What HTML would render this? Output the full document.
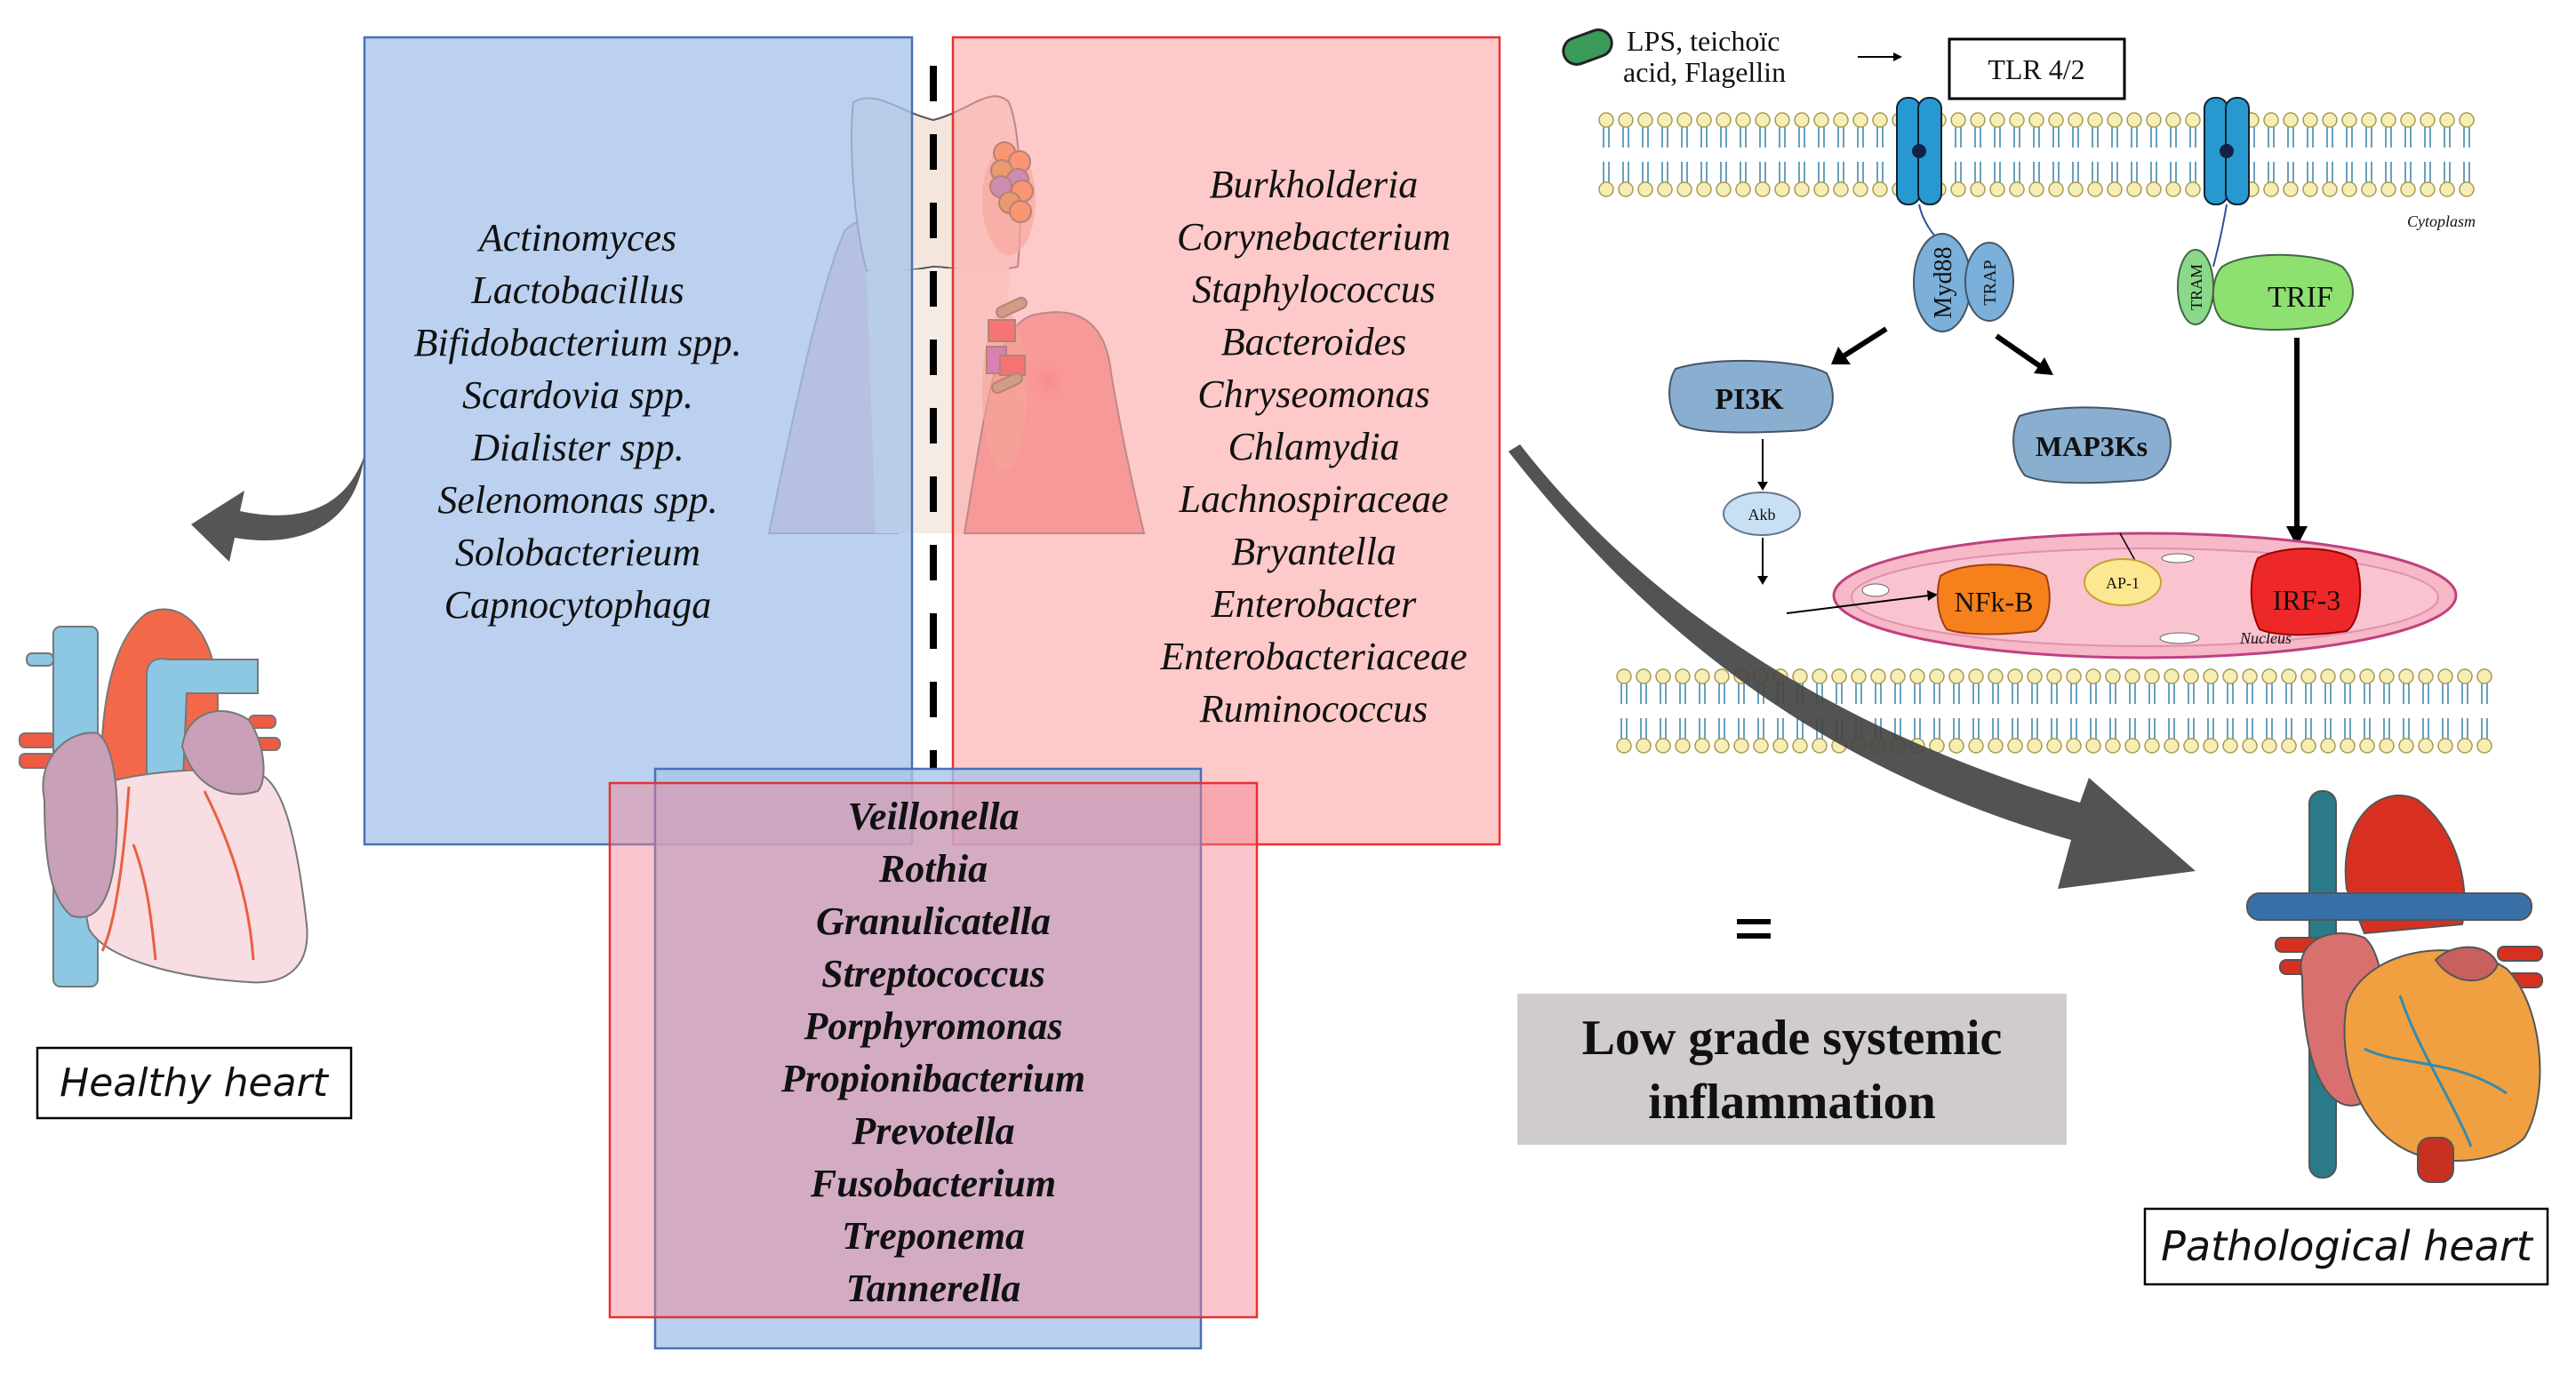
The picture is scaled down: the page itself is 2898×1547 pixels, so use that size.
<!DOCTYPE html>
<html><head><meta charset="utf-8"><style>
html,body{margin:0;padding:0;background:#fff;}
svg{display:block;}
.it{font-family:"Liberation Serif",serif;font-style:italic;font-size:44px;fill:#111;}
.bi{font-family:"Liberation Serif",serif;font-style:italic;font-weight:bold;font-size:44px;fill:#111;}
.sr{font-family:"Liberation Serif",serif;fill:#111;}
</style></head><body>
<svg width="2898" height="1547" viewBox="0 0 2898 1547" xmlns="http://www.w3.org/2000/svg">
<defs>
<radialGradient id="inf" cx="0.5" cy="0.5" r="0.5"><stop offset="0" stop-color="#f56060"/><stop offset="1" stop-color="#f7a0a0" stop-opacity="0"/></radialGradient>
<pattern id="mem" x="1796" y="126" width="22" height="96" patternUnits="userSpaceOnUse">
<circle cx="11" cy="9" r="8" fill="#f6eeb4" stroke="#a89a50" stroke-width="1.5"/>
<circle cx="11" cy="87" r="8" fill="#f6eeb4" stroke="#a89a50" stroke-width="1.5"/>
<path d="M8 17 V40 M14 17 V40 M8 56 V79 M14 56 V79" stroke="#6aa0c0" stroke-width="2"/>
</pattern>
<pattern id="mem2" x="1816" y="752" width="22" height="96" patternUnits="userSpaceOnUse">
<circle cx="11" cy="9" r="8" fill="#f6eeb4" stroke="#a89a50" stroke-width="1.5"/>
<circle cx="11" cy="87" r="8" fill="#f6eeb4" stroke="#a89a50" stroke-width="1.5"/>
<path d="M8 17 V40 M14 17 V40 M8 56 V79 M14 56 V79" stroke="#6aa0c0" stroke-width="2"/>
</pattern>
</defs>
<!-- tooth illustration -->
<g>
<path d="M865 600 C890 480 920 330 950 260 C970 240 990 245 1003 270 L1010 600 Z" fill="#e8b8c4" stroke="#666" stroke-width="2"/>
<path d="M960 115 C985 100 1010 125 1050 135 C1090 125 1115 95 1135 115 C1150 150 1150 250 1145 300 C1100 310 1070 300 1050 300 C1020 305 990 308 975 305 C960 250 955 160 960 115 Z" fill="#f4e6dc" stroke="#555" stroke-width="2"/>
<path d="M975 305 L985 600 L1130 600 L1135 300 Z" fill="#f4ece4"/>
<path d="M1085 600 C1110 450 1120 370 1160 355 C1220 340 1245 370 1250 420 C1260 480 1275 550 1287 600 Z" fill="#f08080" stroke="#555" stroke-width="2"/>
<ellipse cx="1180" cy="430" rx="45" ry="50" fill="url(#inf)"/>
<ellipse cx="1135" cy="225" rx="30" ry="62" fill="#f0a890" opacity="0.7"/>
<g stroke="#442" stroke-width="2">
<circle cx="1130" cy="172" r="12" fill="#f97a20"/><circle cx="1147" cy="182" r="12" fill="#f97a20"/>
<circle cx="1127" cy="192" r="12" fill="#d08010"/><circle cx="1145" cy="202" r="12" fill="#8060c0"/>
<circle cx="1126" cy="210" r="12" fill="#8060c0"/><circle cx="1150" cy="215" r="12" fill="#f97a20"/>
<circle cx="1136" cy="228" r="12" fill="#d08010"/><circle cx="1148" cy="238" r="12" fill="#f97a20"/>
</g>
<ellipse cx="1130" cy="440" rx="25" ry="90" fill="#e8a080" opacity="0.6"/>
<g stroke="#442" stroke-width="2">
<rect x="1120" y="340" width="36" height="12" rx="6" fill="#8a8a50" transform="rotate(-25 1138 346)"/>
<rect x="1112" y="360" width="30" height="24" fill="#f02020"/>
<rect x="1110" y="390" width="22" height="30" fill="#a040c0"/>
<rect x="1125" y="400" width="28" height="22" fill="#e82020"/>
<rect x="1115" y="425" width="36" height="12" rx="6" fill="#8a8a50" transform="rotate(-25 1133 431)"/>
</g>
</g>
<!-- boxes -->
<rect x="410" y="42" width="616" height="908" fill="#a8c4ea" fill-opacity="0.78" stroke="#4a70b8" stroke-width="2.5"/>
<rect x="1072" y="42" width="615" height="908" fill="#fca8a8" fill-opacity="0.62" stroke="#e83030" stroke-width="2.5"/>
<line x1="1050" y1="74" x2="1050" y2="865" stroke="#000" stroke-width="8" stroke-dasharray="40,37"/>
<rect x="737" y="865" width="614" height="652" fill="#a8c4ea" fill-opacity="0.8" stroke="#4a70b8" stroke-width="2.5"/>
<rect x="686" y="881" width="728" height="601" fill="#f48090" fill-opacity="0.45" stroke="#e83030" stroke-width="2.5"/>
<!-- left list -->
<g class="it" text-anchor="middle">
<text x="650" y="282">Actinomyces</text><text x="650" y="341">Lactobacillus</text>
<text x="650" y="400">Bifidobacterium spp.</text><text x="650" y="459">Scardovia spp.</text>
<text x="650" y="518">Dialister spp.</text><text x="650" y="577">Selenomonas spp.</text>
<text x="650" y="636">Solobacterieum</text><text x="650" y="695">Capnocytophaga</text>
</g>
<g class="it" text-anchor="middle">
<text x="1478" y="222">Burkholderia</text><text x="1478" y="281">Corynebacterium</text>
<text x="1478" y="340">Staphylococcus</text><text x="1478" y="399">Bacteroides</text>
<text x="1478" y="458">Chryseomonas</text><text x="1478" y="517">Chlamydia</text>
<text x="1478" y="576">Lachnospiraceae</text><text x="1478" y="635">Bryantella</text>
<text x="1478" y="694">Enterobacter</text><text x="1478" y="753">Enterobacteriaceae</text>
<text x="1478" y="812">Ruminococcus</text>
</g>
<g class="bi" text-anchor="middle">
<text x="1050" y="933">Veillonella</text><text x="1050" y="992">Rothia</text>
<text x="1050" y="1051">Granulicatella</text><text x="1050" y="1110">Streptococcus</text>
<text x="1050" y="1169">Porphyromonas</text><text x="1050" y="1228">Propionibacterium</text>
<text x="1050" y="1287">Prevotella</text><text x="1050" y="1346">Fusobacterium</text>
<text x="1050" y="1405">Treponema</text><text x="1050" y="1464">Tannerella</text>
</g>
<!-- left arrow -->
<path d="M410 512 C390 570 340 590 270 575 L275 552 L215 590 L258 632 L264 605 C340 618 400 590 410 512 Z" fill="#555"/>
<!-- healthy heart -->
<g stroke="#777" stroke-width="2">
<rect x="30" y="735" width="30" height="14" rx="6" fill="#8cc8e4"/>
<rect x="22" y="825" width="40" height="16" rx="6" fill="#f05a40"/><rect x="22" y="848" width="40" height="16" rx="6" fill="#f05a40"/>
<rect x="280" y="805" width="30" height="14" rx="6" fill="#f05a40"/><rect x="285" y="830" width="30" height="14" rx="6" fill="#f05a40"/>
<rect x="60" y="705" width="50" height="405" rx="8" fill="#8cc8e4"/>
<path d="M115 900 C110 800 125 720 165 690 C210 670 245 720 245 790 L245 900 Z" fill="#f4684a"/>
<path d="M165 900 L165 760 C165 740 180 740 190 742 L290 742 L290 780 L210 780 L205 900 Z" fill="#8cc8e4"/>
<path d="M95 895 C110 870 240 860 290 870 C320 880 335 950 345 1040 C350 1090 320 1108 280 1105 C200 1100 120 1080 100 1045 C90 1000 88 930 95 895 Z" fill="#f8dde2"/>
<path d="M50 900 C40 850 80 820 110 825 C130 840 135 900 130 960 C125 1010 110 1040 80 1030 C55 1010 50 960 50 900 Z" fill="#c8a0b8"/>
<path d="M205 840 C210 800 250 790 280 810 C300 840 300 880 290 890 C260 900 220 890 205 840 Z" fill="#c8a0b8"/>
<path d="M145 885 C140 960 130 1040 115 1070 M230 890 C260 950 280 1010 285 1080 M150 950 C165 990 170 1030 175 1080" fill="none" stroke="#e86040" stroke-width="3"/>
</g>
<rect x="42" y="1179" width="353" height="79" fill="#fff" stroke="#000" stroke-width="2.5"/>
<text x="218" y="1233" text-anchor="middle" style="font-family:'DejaVu Sans',sans-serif;font-style:italic;font-size:44px;fill:#111">Healthy heart</text>
<!-- membranes -->
<rect x="1796" y="126" width="991" height="96" fill="url(#mem)"/>
<rect x="1816" y="752" width="989" height="96" fill="url(#mem2)"/>
<text x="2785" y="255" text-anchor="end" class="sr" style="font-style:italic;font-size:18px">Cytoplasm</text>
<!-- bacterium + text -->
<rect x="1758" y="38" width="56" height="30" rx="15" fill="#3a9a5a" stroke="#222" stroke-width="3" transform="rotate(-20 1786 53)"/>
<text x="1830" y="57" class="sr" style="font-size:32px">LPS, teichoïc</text>
<text x="1826" y="92" class="sr" style="font-size:32px">acid, Flagellin</text>
<line x1="2090" y1="64" x2="2130" y2="64" stroke="#000" stroke-width="2"/><path d="M2130 59 L2140 64 L2130 69 Z"/>
<rect x="2193" y="44" width="197" height="67" fill="#fff" stroke="#000" stroke-width="3"/>
<text x="2291" y="89" text-anchor="middle" class="sr" style="font-size:32px">TLR 4/2</text>
<!-- receptors -->
<g fill="#2898d0" stroke="#123" stroke-width="2">
<rect x="2134" y="110" width="26" height="120" rx="12"/><rect x="2158" y="110" width="26" height="120" rx="12"/>
<rect x="2480" y="110" width="26" height="120" rx="12"/><rect x="2504" y="110" width="26" height="120" rx="12"/>
</g>
<circle cx="2159" cy="170" r="8" fill="#124"/><circle cx="2505" cy="170" r="8" fill="#124"/>
<path d="M2159 230 C2165 260 2190 280 2210 300" stroke="#3050a0" stroke-width="2" fill="none"/>
<path d="M2505 230 C2500 260 2495 280 2490 300" stroke="#3050a0" stroke-width="2" fill="none"/>
<!-- Myd88 TRAP -->
<ellipse cx="2185" cy="318" rx="32" ry="55" fill="#7ab0da" stroke="#456" stroke-width="2"/>
<ellipse cx="2238" cy="317" rx="27" ry="44" fill="#7ab0da" stroke="#456" stroke-width="2"/>
<text transform="translate(2195 318) rotate(-90)" text-anchor="middle" class="sr" style="font-size:28px">Myd88</text>
<text transform="translate(2245 318) rotate(-90)" text-anchor="middle" class="sr" style="font-size:20px">TRAP</text>
<!-- TRAM TRIF -->
<ellipse cx="2470" cy="323" rx="20" ry="42" fill="#8ad88a" stroke="#464" stroke-width="2"/>
<text transform="translate(2477 323) rotate(-90)" text-anchor="middle" class="sr" style="font-size:18px">TRAM</text>
<path d="M2500 300 C2530 280 2610 285 2635 300 C2655 320 2650 355 2620 365 C2570 375 2520 372 2500 360 C2485 345 2488 312 2500 300 Z" fill="#8ee070" stroke="#464" stroke-width="2"/>
<text x="2588" y="345" text-anchor="middle" class="sr" style="font-size:34px">TRIF</text>
<!-- PI3K MAP3Ks -->
<path d="M1885 415 C1930 400 2030 405 2055 420 C2070 450 2060 480 2030 484 C1970 488 1910 488 1890 478 C1875 460 1875 430 1885 415 Z" fill="#8aaed0" stroke="#456" stroke-width="2"/>
<text x="1968" y="460" text-anchor="middle" class="sr" style="font-size:34px;font-weight:bold">PI3K</text>
<path d="M2272 468 C2320 452 2410 458 2435 472 C2450 500 2440 535 2410 540 C2350 545 2300 545 2278 535 C2262 515 2262 485 2272 468 Z" fill="#8aaed0" stroke="#456" stroke-width="2"/>
<text x="2353" y="513" text-anchor="middle" class="sr" style="font-size:32px;font-weight:bold">MAP3Ks</text>
<!-- thick arrows -->
<g stroke="#000" stroke-width="6" fill="none"><line x1="2122" y1="370" x2="2075" y2="400"/><line x1="2246" y1="378" x2="2295" y2="412"/><line x1="2584" y1="380" x2="2584" y2="595"/></g>
<path d="M2060 410 L2068 390 L2082 410 Z"/><path d="M2310 422 L2288 420 L2300 402 Z"/><path d="M2572 592 L2596 592 L2584 615 Z"/>
<!-- Akb -->
<line x1="1983" y1="494" x2="1983" y2="545" stroke="#000" stroke-width="2"/><path d="M1977 542 L1989 542 L1983 552 Z"/>
<ellipse cx="1982" cy="578" rx="43" ry="24" fill="#c8e0f4" stroke="#678" stroke-width="2"/>
<text x="1982" y="585" text-anchor="middle" class="sr" style="font-size:18px">Akb</text>
<line x1="1983" y1="605" x2="1983" y2="650" stroke="#000" stroke-width="2"/><path d="M1977 648 L1989 648 L1983 658 Z"/>
<!-- nucleus -->
<ellipse cx="2413" cy="670" rx="350" ry="70" fill="#f7b8c8" stroke="#c04080" stroke-width="3"/>
<ellipse cx="2413" cy="672" rx="330" ry="55" fill="#f9c4d0" stroke="#e090b0" stroke-width="2"/>
<ellipse cx="2110" cy="664" rx="15" ry="7" fill="#fff" stroke="#666"/><ellipse cx="2452" cy="718" rx="22" ry="6" fill="#fff" stroke="#666"/><ellipse cx="2450" cy="628" rx="18" ry="5" fill="#fff" stroke="#666"/>
<text x="2520" y="724" class="sr" style="font-style:italic;font-size:18px">Nucleus</text>
<line x1="2010" y1="690" x2="2170" y2="670" stroke="#000" stroke-width="2"/><path d="M2168 664 L2180 669 L2169 676 Z"/>
<line x1="2385" y1="600" x2="2410" y2="645" stroke="#000" stroke-width="1.5"/>
<path d="M2183 648 C2210 630 2280 632 2302 648 C2310 675 2305 700 2290 710 C2250 715 2210 715 2190 708 C2178 690 2178 665 2183 648 Z" fill="#f6801c" stroke="#a04010" stroke-width="2"/>
<text x="2243" y="688" text-anchor="middle" class="sr" style="font-size:32px">NFk-B</text>
<ellipse cx="2388" cy="655" rx="43" ry="26" fill="#fbe890" stroke="#c8a030" stroke-width="2"/>
<text x="2388" y="662" text-anchor="middle" class="sr" style="font-size:18px">AP-1</text>
<path d="M2540 628 C2570 612 2630 615 2650 630 C2660 660 2655 700 2640 710 C2600 716 2560 716 2542 708 C2530 685 2530 650 2540 628 Z" fill="#ee2828" stroke="#900" stroke-width="2"/>
<text x="2595" y="686" text-anchor="middle" class="sr" style="font-size:32px">IRF-3</text>
<!-- big arrow -->
<path d="M1697 508 C1840 690 2030 860 2330 945 L2315 1000 L2470 980 L2350 875 L2340 903 C2060 820 1850 680 1710 500 Z" fill="#444" opacity="0.92"/>
<!-- = -->
<rect x="1954" y="1034" width="38" height="6" fill="#000"/><rect x="1954" y="1050" width="38" height="6" fill="#000"/>
<rect x="1707" y="1118" width="618" height="170" fill="#d0cccc"/>
<text x="2016" y="1186" text-anchor="middle" class="sr" style="font-size:56px;font-weight:bold">Low grade systemic</text>
<text x="2016" y="1258" text-anchor="middle" class="sr" style="font-size:56px;font-weight:bold">inflammation</text>
<!-- pathological heart -->
<g stroke="#555" stroke-width="2">
<rect x="2598" y="890" width="30" height="435" rx="14" fill="#2a7a8a"/>
<path d="M2640 1000 C2630 920 2680 880 2720 900 C2760 930 2780 990 2770 1040 L2660 1050 Z" fill="#d83020"/>
<rect x="2528" y="1005" width="320" height="30" rx="14" fill="#3a70a8"/>
<rect x="2560" y="1055" width="60" height="16" rx="7" fill="#d83020"/><rect x="2565" y="1080" width="60" height="16" rx="7" fill="#d83020"/>
<rect x="2810" y="1065" width="50" height="16" rx="7" fill="#d83020"/><rect x="2810" y="1095" width="50" height="16" rx="7" fill="#d83020"/>
<path d="M2590 1100 C2580 1060 2620 1040 2660 1055 C2690 1080 2690 1200 2660 1240 C2620 1260 2590 1200 2590 1100 Z" fill="#d87070"/>
<path d="M2640 1130 C2660 1070 2760 1050 2820 1090 C2860 1130 2870 1230 2840 1280 C2810 1310 2740 1315 2700 1290 C2650 1260 2630 1190 2640 1130 Z" fill="#f0a040"/>
<path d="M2740 1080 C2760 1060 2800 1060 2810 1085 C2800 1110 2760 1110 2740 1080 Z" fill="#c86060"/>
<rect x="2720" y="1280" width="40" height="50" rx="14" fill="#c83020"/>
<path d="M2660 1180 C2700 1200 2760 1190 2820 1230 M2700 1120 C2720 1180 2760 1240 2780 1290" fill="none" stroke="#3a8aa8" stroke-width="3"/>
</g>
<rect x="2413" y="1360" width="453" height="85" fill="#fff" stroke="#000" stroke-width="2.5"/>
<text x="2640" y="1418" text-anchor="middle" style="font-family:'DejaVu Sans',sans-serif;font-style:italic;font-size:46px;fill:#111">Pathological heart</text>
</svg>
</body></html>
